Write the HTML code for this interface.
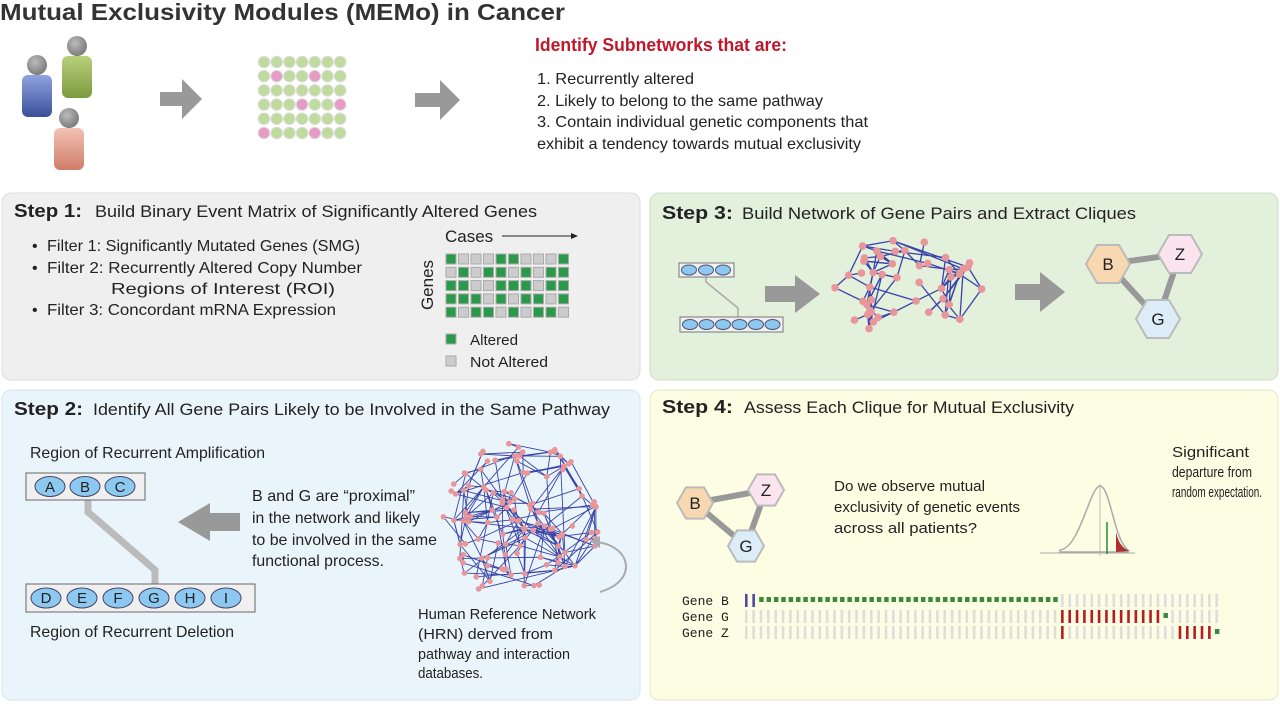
<!DOCTYPE html>
<html><head><meta charset="utf-8">
<style>
html,body{margin:0;padding:0;background:#fff;}
svg{display:block;font-family:"Liberation Sans",sans-serif;}
</style></head>
<body>
<svg id="s" width="1280" height="704" viewBox="0 0 1280 704" xmlns="http://www.w3.org/2000/svg">
<defs>
<linearGradient id="gb" x1="0" y1="0" x2="0" y2="1"><stop offset="0" stop-color="#8fa3e0"/><stop offset="1" stop-color="#3a4f9a"/></linearGradient>
<linearGradient id="gg" x1="0" y1="0" x2="0" y2="1"><stop offset="0" stop-color="#b8d07a"/><stop offset="1" stop-color="#7d9a40"/></linearGradient>
<linearGradient id="gp" x1="0" y1="0" x2="0" y2="1"><stop offset="0" stop-color="#f2c3b5"/><stop offset="1" stop-color="#d27c68"/></linearGradient>
<radialGradient id="gh" cx="0.4" cy="0.35" r="0.7"><stop offset="0" stop-color="#bbb"/><stop offset="1" stop-color="#777"/></radialGradient>
</defs>
<text x="0" y="20" font-size="23" font-weight="bold" fill="#333" textLength="565" lengthAdjust="spacingAndGlyphs">Mutual Exclusivity Modules (MEMo) in Cancer</text>

<!-- people -->
<rect x="62" y="56" width="30" height="42" rx="6" fill="url(#gg)"/>
<circle cx="77" cy="46" r="10" fill="url(#gh)"/>
<rect x="22" y="75" width="30" height="42" rx="6" fill="url(#gb)"/>
<circle cx="37" cy="65" r="10" fill="url(#gh)"/>
<rect x="54" y="128" width="30" height="42" rx="6" fill="url(#gp)"/>
<circle cx="69" cy="118" r="10" fill="url(#gh)"/>

<polygon points="160,92 182,92 182,79 202,99 182,119 182,106 160,106" fill="#999"/>
<polygon points="415,93 440,93 440,80 460,100 440,120 440,107 415,107" fill="#999"/>
<g id="dots"></g>

<g fill="#222" font-size="16" lengthAdjust="spacingAndGlyphs">
<text x="535" y="51" font-size="18" font-weight="bold" fill="#c0182a" textLength="252" lengthAdjust="spacingAndGlyphs">Identify Subnetworks that are:</text>
<text x="537" y="84" textLength="157" lengthAdjust="spacingAndGlyphs">1.  Recurrently altered</text>
<text x="537" y="106" textLength="286" lengthAdjust="spacingAndGlyphs">2.  Likely to belong to the same pathway</text>
<text x="537" y="127" textLength="331" lengthAdjust="spacingAndGlyphs">3.  Contain individual genetic components that</text>
<text x="537" y="149" textLength="324" lengthAdjust="spacingAndGlyphs">exhibit a tendency towards mutual exclusivity</text>
</g>

<!-- panels -->
<rect x="2" y="193" width="638" height="187" rx="9" fill="#efefef" stroke="#ddd"/>
<rect x="650" y="193" width="628" height="187" rx="9" fill="#e2f0dc" stroke="#cde0c4"/>
<rect x="2" y="390" width="638" height="310" rx="9" fill="#eaf5fb" stroke="#d4e6ef"/>
<rect x="650" y="390" width="628" height="310" rx="9" fill="#fdfde3" stroke="#e8e8c4"/>

<!-- headings -->
<g fill="#222">
<text x="14" y="217" font-size="18" font-weight="bold" textLength="68" lengthAdjust="spacingAndGlyphs">Step 1:</text>
<text x="95" y="217" font-size="17" textLength="442" lengthAdjust="spacingAndGlyphs">Build Binary Event Matrix of Significantly Altered Genes</text>
<text x="662" y="219" font-size="18" font-weight="bold" textLength="71" lengthAdjust="spacingAndGlyphs">Step 3:</text>
<text x="742" y="219" font-size="17" textLength="394" lengthAdjust="spacingAndGlyphs">Build Network of Gene Pairs and Extract Cliques</text>
<text x="14" y="415" font-size="18" font-weight="bold" textLength="69" lengthAdjust="spacingAndGlyphs">Step 2:</text>
<text x="93" y="415" font-size="17" textLength="517" lengthAdjust="spacingAndGlyphs">Identify All Gene Pairs Likely to be Involved in the Same Pathway</text>
<text x="662" y="413" font-size="18" font-weight="bold" textLength="71" lengthAdjust="spacingAndGlyphs">Step 4:</text>
<text x="744" y="413" font-size="17" textLength="330" lengthAdjust="spacingAndGlyphs">Assess Each Clique for Mutual Exclusivity</text>
</g>

<!-- step1 -->
<g font-size="16" fill="#222">
<text x="32" y="251">•</text><text x="47" y="251" textLength="313" lengthAdjust="spacingAndGlyphs">Filter 1:  Significantly Mutated Genes (SMG)</text>
<text x="32" y="273">•</text><text x="47" y="273" textLength="315" lengthAdjust="spacingAndGlyphs">Filter 2:  Recurrently Altered Copy Number</text>
<text x="111" y="294" textLength="224" lengthAdjust="spacingAndGlyphs">Regions of Interest (ROI)</text>
<text x="32" y="315">•</text><text x="47" y="315" textLength="289" lengthAdjust="spacingAndGlyphs">Filter 3:  Concordant mRNA Expression</text>
</g>
<text x="445" y="242" font-size="17" fill="#222">Cases</text>
<line x1="502" y1="236" x2="574" y2="236" stroke="#222"/>
<polygon points="578,236 571,233 571,239" fill="#222"/>
<text transform="translate(433,285) rotate(-90)" text-anchor="middle" font-size="17" fill="#222">Genes</text>
<g id="mat"></g>
<rect x="446" y="334" width="10" height="10" fill="#2a9a4a" stroke="#aaa"/>
<text x="470" y="345" font-size="15" fill="#222" textLength="48" lengthAdjust="spacingAndGlyphs">Altered</text>
<rect x="446" y="356" width="10" height="10" fill="#ccc" stroke="#aaa"/>
<text x="470" y="367" font-size="15" fill="#222" textLength="78" lengthAdjust="spacingAndGlyphs">Not Altered</text>

<!-- step3 -->
<polyline points="706,277 706,282 738,308 738,318" fill="none" stroke="#aaa" stroke-width="1.5"/>
<rect x="679" y="263" width="55" height="14" fill="#f0f0f0" stroke="#777"/>
<rect x="680" y="317" width="103" height="15" fill="#f0f0f0" stroke="#777"/>
<g id="ov3"></g>
<polygon points="765,286 795,286 795,275 820,294 795,313 795,302 765,302" fill="#999"/>
<polygon points="1015,284 1040,284 1040,272 1065,292 1040,312 1040,300 1015,300" fill="#999"/>
<g id="net3"></g>
<g id="hex3"></g>

<!-- step2 -->
<text x="30" y="458" font-size="16" fill="#222" textLength="235" lengthAdjust="spacingAndGlyphs">Region of Recurrent Amplification</text>
<polyline points="88,500 88,512 155,570 155,585" fill="none" stroke="#bbb" stroke-width="7"/>
<rect x="26" y="473" width="119" height="27" fill="#f0f0f0" stroke="#666"/>
<rect x="26" y="584" width="229" height="28" fill="#f0f0f0" stroke="#666"/>
<g id="ov2" font-size="15" fill="#222"></g>
<text x="30" y="637" font-size="16" fill="#222" textLength="204" lengthAdjust="spacingAndGlyphs">Region of Recurrent Deletion</text>
<polygon points="240,513 210,513 210,503 178,522 210,541 210,531 240,531" fill="#999"/>
<g font-size="16" fill="#222">
<text x="252" y="501" textLength="163" lengthAdjust="spacingAndGlyphs">B and G are “proximal”</text>
<text x="252" y="523" textLength="168" lengthAdjust="spacingAndGlyphs">in the network and likely</text>
<text x="252" y="545" textLength="185" lengthAdjust="spacingAndGlyphs">to be involved in the same</text>
<text x="252" y="566" textLength="132" lengthAdjust="spacingAndGlyphs">functional process.</text>
</g>
<g id="net2"></g>
<path d="M600,592 C640,580 630,545 596,542" fill="none" stroke="#aaa" stroke-width="2"/>
<polygon points="590,541 600,536 600,548" fill="#aaa"/>
<g font-size="15" fill="#222">
<text x="418" y="619" textLength="178" lengthAdjust="spacingAndGlyphs">Human Reference Network</text>
<text x="418" y="639" textLength="135" lengthAdjust="spacingAndGlyphs">(HRN) derved from</text>
<text x="418" y="659" textLength="152" lengthAdjust="spacingAndGlyphs">pathway and interaction</text>
<text x="418" y="678" textLength="65" lengthAdjust="spacingAndGlyphs">databases.</text>
</g>

<!-- step4 -->
<g id="hex4"></g>
<g font-size="15" fill="#222">
<text x="834" y="491" textLength="151" lengthAdjust="spacingAndGlyphs">Do we observe mutual</text>
<text x="834" y="512" textLength="186" lengthAdjust="spacingAndGlyphs">exclusivity of genetic events</text>
<text x="834" y="533" textLength="143" lengthAdjust="spacingAndGlyphs">across all patients?</text>
<text x="1172" y="457" textLength="77" lengthAdjust="spacingAndGlyphs">Significant</text>
<text x="1172" y="477" textLength="80" lengthAdjust="spacingAndGlyphs">departure from</text>
<text x="1172" y="497" textLength="90" lengthAdjust="spacingAndGlyphs">random expectation.</text>
</g>
<line x1="1040" y1="553" x2="1135" y2="553" stroke="#aaa"/>
<line x1="1100" y1="484" x2="1100" y2="556" stroke="#bbb"/>
<path d="M1060,550 C1080,548 1090,486 1100,486 C1110,486 1114,540 1128,550 L1128,552 L1060,552 Z" fill="none" stroke="#aaa" stroke-width="1.5"/>
<path d="M1116,532 C1119,545 1124,549 1130,551 L1116,552 Z" fill="#b03030"/>
<line x1="1107" y1="522" x2="1107" y2="554" stroke="#2a8a3a" stroke-width="1.5"/>
<g font-family="'Liberation Mono',monospace" font-size="13" fill="#222">
<text x="682" y="605">Gene B</text>
<text x="682" y="621">Gene G</text>
<text x="682" y="637">Gene Z</text>
</g>
<g id="bars"></g>
</svg>
<script>
var NS="http://www.w3.org/2000/svg";
function el(p,t,a,txt){var e=document.createElementNS(NS,t);for(var k in a)e.setAttribute(k,a[k]);if(txt)e.textContent=txt;document.getElementById(p).appendChild(e);return e;}
var pink={"1,1":1,"1,4":1,"3,3":1,"3,6":1,"5,0":1,"5,4":1};
for(var r=0;r<6;r++)for(var c=0;c<7;c++)el("dots","circle",{cx:264+c*12.7,cy:62+r*14.2,r:5.8,fill:pink[r+","+c]?"#e79cc6":"#bfdc9e",stroke:"#ddd","stroke-width":1});
var M=["G...GG...G",".G.GG.G.GG","GG..GGG.GG","GGG.G.GG.G","G.GG.G.GG."];
for(var r=0;r<5;r++)for(var c=0;c<10;c++)el("mat","rect",{x:446+c*12.5,y:254+r*13.3,width:10,height:10,fill:M[r][c]=="G"?"#2a9a4a":"#ccc",stroke:"#aaa","stroke-width":1});
for(var i=0;i<3;i++)el("ov3","ellipse",{cx:689+i*17,cy:270,rx:7.5,ry:5,fill:"#8cc8f0",stroke:"#557"});
for(var i=0;i<6;i++)el("ov3","ellipse",{cx:690+i*16.5,cy:324.5,rx:7.5,ry:5,fill:"#8cc8f0",stroke:"#557"});
var L1="ABC",L2="DEFGHI";
for(var i=0;i<3;i++){el("ov2","ellipse",{cx:50+i*35,cy:486.5,rx:15,ry:10,fill:"#8cc8f0",stroke:"#446"});el("ov2","text",{x:50+i*35,y:492,"text-anchor":"middle"},L1[i]);}
for(var i=0;i<6;i++){el("ov2","ellipse",{cx:46+i*36,cy:598,rx:15,ry:10,fill:"#8cc8f0",stroke:"#446"});el("ov2","text",{x:46+i*36,y:603,"text-anchor":"middle"},L2[i]);}
var seed=7;function rnd(){seed=(seed*16807)%2147483647;return (seed-1)/2147483646;}
function net(id,cx,cy,rx,ry,n,m,sw,rad){var P=[];for(var i=0;i<n;i++){var a=rnd()*6.283,d=Math.sqrt(rnd());P.push([cx+Math.cos(a)*rx*d,cy+Math.sin(a)*ry*d]);}
for(var k=0;k<m;k++){var a=Math.floor(rnd()*n),best=-1,bd=1e9;for(var t=0;t<6;t++){var b=Math.floor(rnd()*n);var dd=Math.hypot(P[a][0]-P[b][0],P[a][1]-P[b][1]);if(b!=a&&dd<bd){bd=dd;best=b;}}if(best>=0)el(id,"line",{x1:P[a][0],y1:P[a][1],x2:P[best][0],y2:P[best][1],stroke:"#3a44a8","stroke-width":sw});}
P.forEach(function(p){el(id,"circle",{cx:p[0],cy:p[1],r:rad,fill:"#e8969a"});});}
net("net3",903,289,82,52,46,95,1.3,3.8);
net("net2",522,522,80,82,120,240,0.9,2.8);
function hex(id,cx,cy,r,fill,lab){var pts=[];for(var i=0;i<6;i++){var a=i*Math.PI/3;pts.push((cx+r*Math.cos(a))+","+(cy+r*Math.sin(a)));}el(id,"polygon",{points:pts.join(" "),fill:fill,stroke:"#bbb","stroke-width":2});el(id,"text",{x:cx,y:cy+6,"text-anchor":"middle","font-size":17,fill:"#222"},lab);}
function clique(id,B,Z,G,r){el(id,"line",{x1:B[0],y1:B[1],x2:Z[0],y2:Z[1],stroke:"#999","stroke-width":6});el(id,"line",{x1:B[0],y1:B[1],x2:G[0],y2:G[1],stroke:"#999","stroke-width":6});el(id,"line",{x1:Z[0],y1:Z[1],x2:G[0],y2:G[1],stroke:"#999","stroke-width":6});hex(id,B[0],B[1],r,"#f8d8b0","B");hex(id,Z[0],Z[1],r,"#fbe4ee","Z");hex(id,G[0],G[1],r,"#dcedf8","G");}
clique("hex3",[1108,264],[1180,254],[1158,319],22);
clique("hex4",[695,503],[766,490],[746,546],18);
for(var i=0;i<65;i++){var x=745+i*7.35;
 var B=i<2?"blue":(i<=42?"green":"gray");
 var G=(i>=43&&i<=56)?"red":(i==57?"green":"gray");
 var Z=(i==43||(i>=59&&i<=63))?"red":(i==64?"green":"gray");
 [[B,594],[G,610],[Z,626]].forEach(function(q){var t=q[0],y=q[1];
  if(t=="green")el("bars","rect",{x:x-0.5,y:y+3,width:4.5,height:5,fill:"#3a8a3a"});
  else el("bars","rect",{x:x,y:y,width:2.6,height:13,fill:t=="blue"?"#4a4aa8":t=="red"?"#b81c24":"#ddd"});});}
</script>
</body></html>
